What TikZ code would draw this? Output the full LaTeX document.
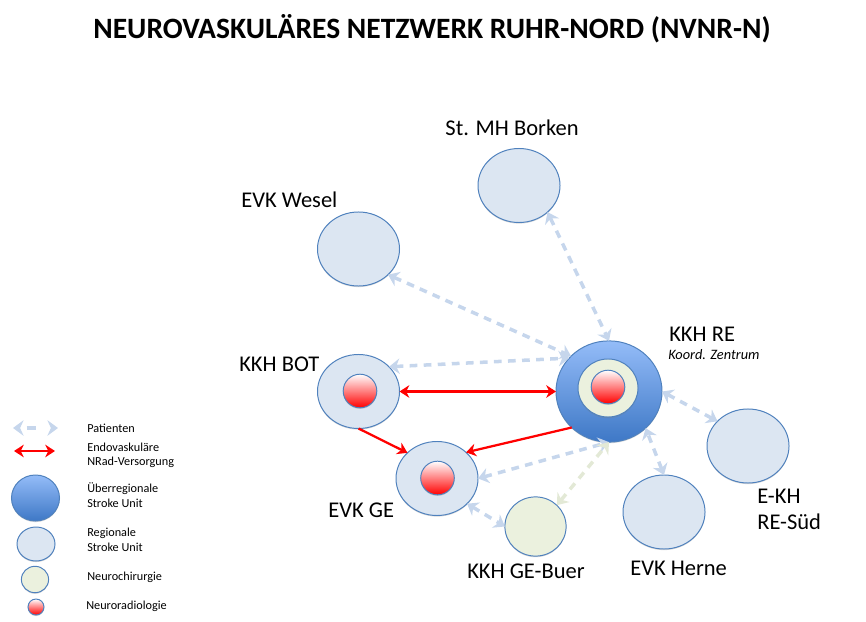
\documentclass[tikz,border=0pt]{standalone}
\usepackage{fontspec}
\setmainfont{Carlito}
\usetikzlibrary{arrows.meta,shapes.geometric,shadows}

\definecolor{rim}{HTML}{4F81BD}
\definecolor{palblue}{HTML}{DCE6F2}
\definecolor{palgreen}{HTML}{EBF1DE}
\definecolor{linkblue}{HTML}{C6D6EC}
\definecolor{linkgreen}{HTML}{E3E9D6}
\definecolor{topblue}{HTML}{94BCF8}
\definecolor{lowblue}{HTML}{3E78C6}

\tikzset{
	ball/.style={ellipse,draw=rim,line width=0.7pt,inner sep=0pt,outer sep=0pt,
		drop shadow={shadow xshift=0pt,shadow yshift=-0.8pt,opacity=0.3}},
	regional/.style={ball,fill=palblue,minimum width=2.05cm,minimum height=1.85cm},
	surgery/.style={ball,fill=palgreen},
	major/.style={ball,top color=topblue,bottom color=lowblue},
	radio/.style={ball,top color=white,bottom color=red,minimum width=0.84cm,minimum height=0.84cm},
	patlink/.style={<->,>={Stealth[length=7.5pt,width=11pt]},draw=linkblue,line width=2.5pt,dash pattern=on 5.5pt off 4.5pt},
	surglink/.style={patlink,draw=linkgreen},
	nradlink/.style={>={Stealth[length=7pt,width=9pt]},draw=red,line width=1.6pt},
	lbl/.style={anchor=west,inner sep=0pt,font=\fontsize{16}{19}\selectfont},
	leg/.style={anchor=west,inner sep=0pt,font=\fontsize{8.7}{10}\selectfont}
}

\begin{document}
\begin{tikzpicture}[x=0.025cm,y=-0.025cm]
	\useasboundingbox (0,0) rectangle (866,622);

	\node[inner sep=0pt,font=\bfseries\fontsize{21}{25}\selectfont] (title) at (432,29) {NEUROVASKULÄRES NETZWERK RUHR-NORD (NVNR-N)};

	% hospitals
	\node[regional] (borken) at (519,185.5) {};
	\node[regional] (wesel) at (358.5,249) {};
	\node[regional] (bot) at (358.5,391.5) {};
	\node[regional] (evkge) at (437,478.5) {};
	\node[regional] (herne) at (664,512) {};
	\node[regional] (ekh) at (748,446) {};
	\node[surgery,minimum width=1.53cm,minimum height=1.48cm] (buer) at (535.5,526.5) {};
	\node[major,minimum width=2.65cm,minimum height=2.53cm] (re) at (609,391.5) {};
	\node[surgery,minimum width=1.5cm,minimum height=1.45cm] (resurg) at (608,388) {};
	\node[radio] (reradio) at (608,387) {};
	\node[radio] (botradio) at (360,391) {};
	\node[radio] (geradio) at (437.5,478) {};

	% patients
	\draw[patlink] (wesel.-41) -- (re.137);
	\draw[patlink] (borken.-43) -- (re.90);
	\draw[patlink] (bot.39) -- (re.140);
	\draw[patlink] (evkge.0) -- (re.270);
	\draw[surglink] (buer.45) -- (re.270);
	\draw[patlink] (evkge.-40) -- (buer.180);
	\draw[patlink] (herne.90) -- (re.-45);
	\draw[patlink] (ekh.141) -- (re.0);

	% nrad
	\draw[nradlink,<->] (bot.east) -- (re.west);
	\draw[nradlink,->] (bot.south) -- (evkge.139);
	\draw[nradlink,->] (re.224) -- (evkge.42);

	% names
	\node[lbl,anchor=center] (borkentxt) at (512,128) {St. MH Borken};
	\node[lbl] (weseltxt) at (241,200) {EVK Wesel};
	\node[lbl] (bottxt) at (239,364) {KKH BOT};
	\node[lbl] (retxt) at (669,334) {KKH RE};
	\node[leg,font=\itshape\fontsize{10.2}{12}\selectfont] (rezen) at (668,355) {Koord. Zentrum};
	\node[lbl] (ekhtxt) at (757,496) {E-KH};
	\node[lbl] (ekhsued) at (757,522) {RE-Süd};
	\node[lbl] (getxt) at (328,510) {EVK GE};
	\node[lbl] (buertxt) at (467,571) {KKH GE-Buer};
	\node[lbl] (hernetxt) at (630,568) {EVK Herne};

	% legend
	\coordinate (pata) at (13,428);
	\coordinate (patb) at (58,428);
	\coordinate (nrada) at (14,451);
	\coordinate (nradb) at (55,451);
	\draw[patlink,dash pattern=on 0pt off 5pt on 6.5pt off 20pt] (pata) -- (patb);
	\draw[nradlink,<->] (nrada) -- (nradb);
	\node[major,minimum width=1.2cm,minimum height=1.15cm] (legmajor) at (35.5,498) {};
	\node[regional,minimum width=0.95cm,minimum height=0.85cm] (legregional) at (36,544) {};
	\node[surgery,minimum width=0.68cm,minimum height=0.66cm] (legsurg) at (35,579.5) {};
	\node[radio,minimum width=0.4cm,minimum height=0.4cm] (legradio) at (36,607) {};
	\node[leg] (l1) at (87,428) {Patienten};
	\node[leg] (l2) at (87,447) {Endovaskuläre};
	\node[leg] (l3) at (87,462) {NRad-Versorgung};
	\node[leg] (l4) at (87,489) {Überregionale};
	\node[leg] (l5) at (87,503) {Stroke Unit};
	\node[leg] (l6) at (87,533) {Regionale};
	\node[leg] (l7) at (87,547) {Stroke Unit};
	\node[leg] (l8) at (87,577) {Neurochirurgie};
	\node[leg] (l9) at (86,606) {Neuroradiologie};
\end{tikzpicture}
\end{document}
